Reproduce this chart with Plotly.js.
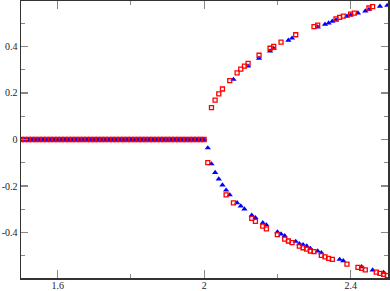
<!DOCTYPE html>
<html>
<head>
<meta charset="utf-8">
<script src="https://cdn.plot.ly/plotly-3.0.1.min.js"></script>
<style>
  html, body { margin: 0; padding: 0; background: #fff; }
  #plot { width: 390px; height: 291px; }
</style>
</head>
<body>
<div id="plot"></div>
<script>
// flacher Ast (beide Reihen bei 0)
const flatX = [1.50, 1.51, 1.52, 1.53, 1.54, 1.55, 1.56, 1.57, 1.58, 1.59,
  1.60, 1.61, 1.62, 1.63, 1.64, 1.65, 1.66, 1.67, 1.68, 1.69,
  1.70, 1.71, 1.72, 1.73, 1.74, 1.75, 1.76, 1.77, 1.78, 1.79,
  1.80, 1.81, 1.82, 1.83, 1.84, 1.85, 1.86, 1.87, 1.88, 1.89,
  1.90, 1.91, 1.92, 1.93, 1.94, 1.95, 1.96, 1.97, 1.98, 1.99, 2.00];
const flatY = [0, 0, 0, 0, 0, 0, 0, 0, 0, 0,
  0, 0, 0, 0, 0, 0, 0, 0, 0, 0,
  0, 0, 0, 0, 0, 0, 0, 0, 0, 0,
  0, 0, 0, 0, 0, 0, 0, 0, 0, 0,
  0, 0, 0, 0, 0, 0, 0, 0, 0, 0, 0];

// rote Quadrate nach der Verzweigung
const redUpX = [2.02, 2.03, 2.04, 2.05, 2.07, 2.09, 2.10, 2.11, 2.12, 2.15, 2.18, 2.19,
  2.21, 2.25, 2.30, 2.31, 2.36, 2.37, 2.38, 2.40, 2.41, 2.45, 2.46];
const redUpY = [0.137, 0.169, 0.196, 0.217, 0.253, 0.286, 0.302, 0.315, 0.327, 0.362, 0.392, 0.400,
  0.418, 0.450, 0.485, 0.491, 0.518, 0.525, 0.530, 0.539, 0.543, 0.565, 0.571];
const redLoX = [2.01, 2.06, 2.08, 2.13, 2.14, 2.16, 2.17, 2.20, 2.22, 2.23, 2.24, 2.26, 2.27, 2.28,
  2.29, 2.30, 2.32, 2.33, 2.34, 2.35, 2.39, 2.42, 2.43, 2.44, 2.47, 2.48, 2.49, 2.50];
const redLoY = [-0.099, -0.238, -0.272, -0.339, -0.352, -0.372, -0.384, -0.409, -0.428, -0.436, -0.443,
  -0.458, -0.465, -0.471, -0.479, -0.482, -0.498, -0.504, -0.511, -0.515, -0.535, -0.549, -0.554,
  -0.560, -0.570, -0.575, -0.579, -0.585];

// blaue Dreiecke nach der Verzweigung
const blueUpX = [2.08, 2.12, 2.15, 2.18, 2.19, 2.23, 2.24, 2.31, 2.33, 2.34, 2.35, 2.36,
  2.39, 2.40, 2.42, 2.44, 2.45, 2.48, 2.50];
const blueUpY = [0.258, 0.315, 0.349, 0.380, 0.391, 0.426, 0.435, 0.483, 0.495, 0.500, 0.508, 0.513,
  0.529, 0.535, 0.543, 0.552, 0.558, 0.572, 0.576];
const blueLoX = [2.01, 2.02, 2.03, 2.04, 2.05, 2.06, 2.07, 2.09, 2.10, 2.11, 2.13, 2.14, 2.16, 2.17,
  2.20, 2.21, 2.22, 2.25, 2.26, 2.27, 2.28, 2.29, 2.31, 2.32, 2.37, 2.38, 2.43, 2.46, 2.49];
const blueLoY = [-0.036, -0.105, -0.142, -0.170, -0.196, -0.218, -0.238, -0.272, -0.286, -0.299,
  -0.325, -0.336, -0.358, -0.367, -0.397, -0.406, -0.414, -0.438, -0.448, -0.452, -0.458, -0.468,
  -0.479, -0.487, -0.515, -0.521, -0.547, -0.561, -0.571];

const xTickVals = [1.6, 2, 2.4];
const xTickText = ["1.6", "2", "2.4"];
const xMinor = [1.8, 2.2];
const yTickVals = [-0.4, -0.2, 0, 0.2, 0.4];
const yTickText = ["-0.4", "-0.2", "0", "0.2", "0.4"];
const yMinor = [-0.5, -0.3, -0.1, 0.1, 0.3, 0.5];

const blueMarker = { symbol: "triangle-up", size: 5.5, color: "#0000ff" };
const redMarker = { symbol: "square-open", size: 4, color: "#ff0000", line: { width: 1.3, color: "#ff0000" } };

const traces = [
  { type: "scatter", mode: "markers", x: flatX, y: flatY, marker: blueMarker },
  { type: "scatter", mode: "markers", x: blueUpX, y: blueUpY, marker: blueMarker },
  { type: "scatter", mode: "markers", x: blueLoX, y: blueLoY, marker: blueMarker },
  { type: "scatter", mode: "markers", x: flatX, y: flatY, marker: redMarker },
  { type: "scatter", mode: "markers", x: redUpX, y: redUpY, marker: redMarker },
  { type: "scatter", mode: "markers", x: redLoX, y: redLoY, marker: redMarker },
];

const axisBase = {
  showgrid: false,
  zeroline: false,
  showline: true,
  linecolor: "#333",
  linewidth: 1.5,
  mirror: "ticks",
  ticks: "inside",
  ticklen: 8,
  tickwidth: 1.2,
  tickcolor: "#888",
  tickmode: "array",
  tickfont: { family: "Liberation Serif", size: 10, color: "#222" },
};

Plotly.newPlot("plot", traces, {
  width: 390,
  height: 291,
  showlegend: false,
  paper_bgcolor: "#fff",
  plot_bgcolor: "#fff",
  margin: { l: 21, r: 2, t: 1, b: 13 },
  xaxis: Object.assign({}, axisBase, {
    range: [1.5, 2.502],
    tickvals: xTickVals,
    ticktext: xTickText,
    ticklabelstandoff: -3,
    minor: { tickmode: "array", tickvals: xMinor, ticks: "inside", ticklen: 4, tickcolor: "#888", showgrid: false },
  }),
  yaxis: Object.assign({}, axisBase, {
    range: [-0.595, 0.595],
    ticklen: 7,
    tickvals: yTickVals,
    ticktext: yTickText,
    minor: { tickmode: "array", tickvals: yMinor, ticks: "inside", ticklen: 4, tickcolor: "#888", showgrid: false },
  }),
}, { displayModeBar: false, staticPlot: true });
</script>
</body>
</html>
